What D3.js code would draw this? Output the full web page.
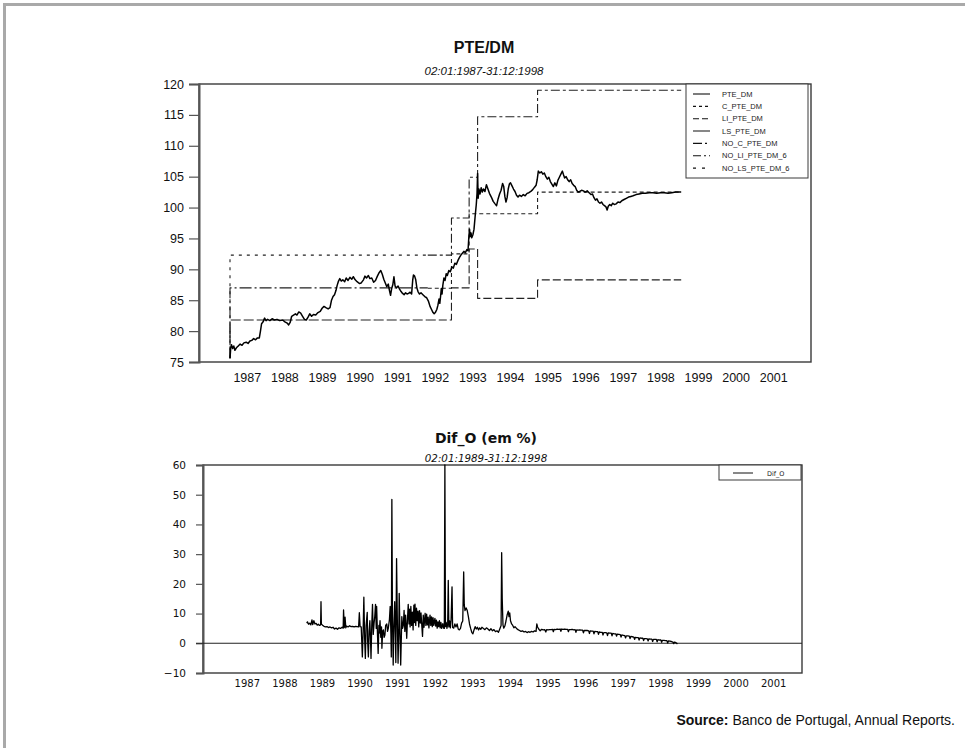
<!DOCTYPE html>
<html>
<head>
<meta charset="utf-8">
<script src="https://cdn.jsdelivr.net/npm/d3@7"></script>
<style>
  body { margin: 0; background: #fff; }
  svg { display: block; }
</style>
</head>
<body>
<svg id="chart" width="965" height="748"></svg>
<script>
// ---- data -------------------------------------------------------------
const yearLabels = ["1987","1988","1989","1990","1991","1992","1993","1994","1995","1996","1997","1998","1999","2000","2001"];
const topTicks = [75, 80, 85, 90, 95, 100, 105, 110, 115, 120];
const bottomTicks = [-10, 0, 10, 20, 30, 40, 50, 60];

// PTE per DM, [decimal year, rate]
const pteDm = [
[1987.00,75.6],[1987.02,77.3],[1987.04,77.8],[1987.07,77.2],[1987.10,77.6],[1987.13,76.9],[1987.17,77.3],[1987.22,77.6],
[1987.27,77.9],[1987.32,77.7],[1987.37,78.1],[1987.43,78.2],[1987.48,78.0],[1987.53,78.4],[1987.58,78.5],[1987.63,78.8],
[1987.68,78.6],[1987.73,78.9],[1987.78,78.9],[1987.81,80.0],[1987.84,81.2],[1987.88,81.5],[1987.92,82.1],[1987.96,81.7],
[1988.00,81.9],[1988.06,81.7],[1988.12,82.0],[1988.18,81.8],[1988.25,81.9],[1988.32,81.7],[1988.40,81.8],[1988.46,81.5],
[1988.52,81.3],[1988.56,81.0],[1988.60,81.4],[1988.64,82.4],[1988.69,82.6],[1988.74,82.8],[1988.78,82.6],[1988.83,83.1],
[1988.88,82.9],[1988.93,82.4],[1988.98,81.9],[1989.03,81.8],[1989.08,82.3],[1989.12,82.8],[1989.17,82.4],[1989.22,82.7],
[1989.28,82.6],[1989.34,83.0],[1989.40,83.2],[1989.45,83.7],[1989.50,84.0],[1989.55,83.8],[1989.61,83.6],[1989.66,83.8],
[1989.70,85.0],[1989.74,85.6],[1989.78,85.9],[1989.82,86.6],[1989.85,87.4],[1989.88,88.0],[1989.92,88.5],[1989.96,88.1],
[1990.00,88.3],[1990.05,88.0],[1990.09,88.6],[1990.14,88.2],[1990.19,88.7],[1990.24,88.4],[1990.28,88.8],[1990.33,88.3],
[1990.38,88.0],[1990.44,87.7],[1990.49,87.8],[1990.55,88.3],[1990.59,88.9],[1990.63,88.6],[1990.68,89.0],[1990.72,88.5],
[1990.77,88.6],[1990.82,87.9],[1990.87,88.2],[1990.92,88.9],[1990.97,89.5],[1991.01,89.8],[1991.05,89.2],[1991.09,88.4],
[1991.13,87.8],[1991.17,87.2],[1991.21,87.6],[1991.24,86.6],[1991.27,85.8],[1991.30,86.9],[1991.33,87.5],[1991.36,88.8],
[1991.39,87.3],[1991.43,87.0],[1991.47,87.3],[1991.51,86.8],[1991.55,86.4],[1991.59,86.1],[1991.63,85.9],[1991.67,86.2],
[1991.71,86.0],[1991.75,86.1],[1991.79,86.3],[1991.83,86.0],[1991.86,88.3],[1991.88,89.1],[1991.91,88.9],[1991.94,88.3],
[1991.97,87.0],[1992.00,86.4],[1992.04,86.0],[1992.08,86.2],[1992.13,85.9],[1992.18,85.6],[1992.23,85.4],[1992.28,84.8],
[1992.32,84.0],[1992.36,83.5],[1992.40,83.0],[1992.43,82.8],[1992.46,83.0],[1992.50,83.5],[1992.53,84.2],[1992.56,85.2],
[1992.58,84.5],[1992.60,85.6],[1992.62,86.9],[1992.64,86.0],[1992.66,87.4],[1992.69,88.6],[1992.72,88.2],[1992.75,89.3],
[1992.78,89.0],[1992.82,89.8],[1992.86,89.6],[1992.90,90.4],[1992.94,90.2],[1992.98,91.0],[1993.02,90.8],[1993.06,91.4],
[1993.10,91.9],[1993.14,92.3],[1993.18,92.6],[1993.22,92.9],[1993.26,92.7],[1993.30,93.2],[1993.33,93.0],[1993.35,95.0],
[1993.37,96.5],[1993.39,95.3],[1993.41,95.9],[1993.43,95.1],[1993.46,95.6],[1993.49,96.5],[1993.52,98.6],[1993.55,100.5],
[1993.57,102.3],[1993.585,105.5],[1993.60,101.5],[1993.62,103.0],[1993.65,102.2],[1993.68,103.2],[1993.71,102.5],[1993.74,103.0],
[1993.78,102.6],[1993.82,103.7],[1993.86,103.0],[1993.90,102.3],[1993.95,101.7],[1994.00,101.0],[1994.05,100.6],[1994.09,100.3],
[1994.13,101.4],[1994.17,102.2],[1994.21,102.8],[1994.25,103.9],[1994.28,103.4],[1994.31,101.8],[1994.34,100.9],[1994.37,101.6],
[1994.40,103.0],[1994.43,103.8],[1994.46,104.0],[1994.50,103.5],[1994.54,103.0],[1994.58,102.6],[1994.62,102.0],[1994.66,101.7],
[1994.70,102.0],[1994.75,101.8],[1994.80,102.1],[1994.85,101.9],[1994.90,102.3],[1994.95,102.4],[1995.00,102.6],[1995.05,102.9],
[1995.10,103.3],[1995.14,103.6],[1995.17,104.5],[1995.20,105.9],[1995.24,105.6],[1995.28,105.8],[1995.32,105.4],[1995.36,105.6],
[1995.40,105.0],[1995.44,104.6],[1995.48,104.9],[1995.52,104.2],[1995.56,103.8],[1995.60,103.4],[1995.64,104.0],[1995.68,103.5],
[1995.72,104.4],[1995.76,104.9],[1995.80,105.4],[1995.84,105.9],[1995.87,105.3],[1995.90,104.8],[1995.94,105.0],[1995.98,104.5],
[1996.02,104.2],[1996.06,104.5],[1996.10,103.9],[1996.14,103.6],[1996.18,103.4],[1996.22,102.8],[1996.26,102.5],[1996.30,102.6],
[1996.35,102.8],[1996.40,102.7],[1996.45,102.5],[1996.50,102.7],[1996.55,102.4],[1996.60,102.1],[1996.64,102.2],[1996.68,101.6],
[1996.72,101.2],[1996.76,101.4],[1996.80,100.9],[1996.84,100.7],[1996.88,100.9],[1996.92,100.5],[1996.96,100.3],[1997.00,100.1],
[1997.03,99.6],[1997.06,100.2],[1997.10,100.5],[1997.14,100.3],[1997.18,100.7],[1997.22,100.5],[1997.27,100.6],[1997.32,100.9],
[1997.37,100.8],[1997.42,101.1],[1997.48,101.3],[1997.54,101.5],[1997.60,101.7],[1997.66,101.8],[1997.72,101.9],[1997.80,102.1],
[1997.88,102.2],[1997.96,102.3],[1998.05,102.3],[1998.15,102.4],[1998.25,102.4],[1998.35,102.3],[1998.45,102.4],[1998.55,102.4],
[1998.65,102.3],[1998.75,102.4],[1998.85,102.5],[1998.95,102.5],[1999.00,102.5]
];

// ERM central rate and limits (official), step breakpoints
const cPteDm = [[1992.26,86.94],[1992.89,86.94],[1992.89,92.5],[1993.36,92.5],[1993.36,99.0],[1995.18,99.0],[1995.18,102.5],[1999.0,102.5]];
const liPteDm = [[1992.26,81.8],[1992.89,81.8],[1992.89,87.0],[1993.36,87.0],[1993.36,93.3],[1993.585,93.3],[1993.585,85.3],[1995.18,85.3],[1995.18,88.3],[1999.0,88.3]];
const lsPteDm = [[1992.26,92.3],[1992.89,92.3],[1992.89,98.3],[1993.36,98.3],[1993.36,104.9],[1993.585,104.9],[1993.585,114.7],[1995.18,114.7],[1995.18,119.0],[1999.0,119.0]];
// notional band before entry (+/-6%)
const noCPteDm = [[1987.0,75.6],[1987.0,87.0],[1992.26,87.0]];
const noLiPteDm6 = [[1987.0,75.6],[1987.0,81.8],[1992.26,81.8]];
const noLsPteDm6 = [[1987.0,75.6],[1987.0,92.3],[1992.26,92.3]];

// Dif_O, percent, [decimal year, value]
const difO = [
[1989.04,6.8],[1989.06,7.2],[1989.09,6.4],[1989.12,6.8],[1989.15,6.2],[1989.18,7.9],[1989.20,6.3],[1989.23,7.6],
[1989.26,6.5],[1989.29,6.7],[1989.32,6.1],[1989.35,6.4],[1989.38,6.0],[1989.41,6.2],[1989.42,14.0],[1989.43,6.5],
[1989.46,6.1],[1989.50,5.7],[1989.54,5.5],[1989.58,5.6],[1989.62,5.3],[1989.66,5.5],[1989.70,5.2],[1989.74,5.4],
[1989.78,4.8],[1989.82,5.1],[1989.86,4.7],[1989.90,5.2],[1989.94,5.0],[1989.98,5.4],[1990.01,5.1],[1990.02,11.2],
[1990.04,5.3],[1990.06,8.8],[1990.08,5.2],[1990.10,5.8],[1990.14,5.5],[1990.18,5.9],[1990.22,5.6],[1990.26,5.7],
[1990.30,5.5],[1990.34,5.7],[1990.38,5.6],[1990.42,5.5],[1990.44,10.3],[1990.46,5.6],[1990.49,5.5],
[1990.52,-4.6],[1990.54,4.0],[1990.56,15.5],[1990.58,2.0],[1990.60,-5.1],[1990.62,6.0],[1990.65,10.4],[1990.66,1.0],
[1990.68,-4.6],[1990.70,4.0],[1990.72,7.6],[1990.74,0.0],[1990.75,-5.1],[1990.77,6.0],[1990.79,13.1],[1990.81,3.0],
[1990.83,6.5],[1990.85,9.0],[1990.87,13.1],[1990.89,5.0],[1990.90,12.4],[1990.92,4.0],[1990.94,-3.4],[1990.96,6.0],
[1990.97,3.4],[1990.99,7.6],[1991.01,2.0],[1991.03,5.5],[1991.04,-1.7],[1991.06,4.0],[1991.08,4.5],[1991.10,2.0],
[1991.12,2.8],[1991.14,6.0],[1991.17,6.5],[1991.19,4.0],[1991.21,5.0],[1991.24,8.0],[1991.26,12.4],[1991.28,3.0],
[1991.29,-4.6],[1991.305,48.4],[1991.32,10.0],[1991.34,-7.3],[1991.36,6.0],[1991.38,14.0],[1991.40,2.0],[1991.41,-6.5],
[1991.43,28.5],[1991.45,8.0],[1991.47,-6.7],[1991.49,5.0],[1991.50,16.8],[1991.52,4.0],[1991.54,-7.3],[1991.57,9.0],
[1991.59,5.0],[1991.61,6.0],[1991.63,11.1],[1991.65,4.0],[1991.67,9.5],[1991.70,1.7],[1991.72,8.0],[1991.74,13.1],
[1991.76,6.5],[1991.78,11.5],[1991.79,5.5],[1991.81,12.4],[1991.83,6.0],[1991.85,10.5],[1991.87,4.5],[1991.89,12.8],
[1991.91,7.0],[1991.92,13.2],[1991.94,6.0],[1991.96,11.8],[1991.98,7.6],[1992.00,10.8],[1992.02,5.5],[1992.04,11.0],
[1992.06,6.8],[1992.08,10.2],[1992.10,6.2],[1992.12,2.3],[1992.14,9.5],[1992.16,5.4],[1992.19,10.1],[1992.21,6.0],
[1992.23,9.8],[1992.25,6.2],[1992.27,8.8],[1992.29,5.2],[1992.32,9.5],[1992.34,6.0],[1992.36,8.9],[1992.38,5.6],
[1992.40,8.6],[1992.42,6.0],[1992.45,8.4],[1992.47,5.8],[1992.49,7.8],[1992.51,5.1],[1992.53,7.2],[1992.55,5.6],
[1992.57,7.6],[1992.59,5.2],[1992.61,7.0],[1992.63,5.0],[1992.66,6.6],[1992.68,5.1],[1992.70,5.0],[1992.715,60.0],
[1992.73,5.6],[1992.75,7.0],[1992.77,5.0],[1992.79,6.5],[1992.805,21.2],[1992.82,5.5],[1992.84,7.5],[1992.86,5.2],
[1992.88,8.0],[1992.905,19.0],[1992.92,5.3],[1992.95,5.1],[1992.98,6.5],[1993.01,5.5],[1993.04,6.5],[1993.07,4.8],
[1993.10,4.5],[1993.13,5.0],[1993.16,6.8],[1993.19,7.5],[1993.215,24.0],[1993.23,13.0],[1993.25,11.0],[1993.28,11.9],
[1993.31,11.0],[1993.34,9.0],[1993.37,6.5],[1993.40,5.0],[1993.43,3.7],[1993.46,3.2],[1993.49,4.5],[1993.52,5.6],
[1993.55,4.8],[1993.58,5.4],[1993.61,4.5],[1993.64,5.2],[1993.67,4.7],[1993.70,5.4],[1993.74,5.0],[1993.78,4.6],
[1993.82,5.2],[1993.86,4.8],[1993.90,4.3],[1993.94,4.9],[1993.98,4.2],[1994.02,4.6],[1994.06,3.9],[1994.10,4.2],
[1994.14,3.7],[1994.18,5.0],[1994.21,6.0],[1994.225,30.5],[1994.24,15.0],[1994.26,6.2],[1994.28,5.1],[1994.31,5.8],
[1994.34,7.5],[1994.37,9.5],[1994.40,10.8],[1994.42,9.0],[1994.44,10.2],[1994.46,7.6],[1994.49,6.5],[1994.52,6.0],
[1994.55,5.2],[1994.58,5.6],[1994.62,5.0],[1994.66,4.6],[1994.70,4.3],[1994.74,4.0],[1994.78,4.2],[1994.82,3.8],
[1994.86,4.0],[1994.90,3.6],[1994.94,3.9],[1994.98,3.7],[1995.02,4.0],[1995.06,3.8],[1995.10,4.2],[1995.14,4.0],
[1995.16,6.5],[1995.18,5.5],[1995.21,4.8],[1995.25,4.2],[1995.29,4.7],[1995.33,4.5],[1995.37,4.6],[1995.40,3.8],
[1995.42,4.6],[1995.46,4.5],[1995.50,4.6],[1995.54,4.6],[1995.58,4.7],[1995.60,3.9],[1995.62,4.7],[1995.66,4.6],
[1995.70,4.8],[1995.74,4.7],[1995.78,4.8],[1995.80,4.0],[1995.82,4.8],[1995.86,4.7],[1995.90,4.8],[1995.94,4.7],
[1995.98,4.7],[1996.00,3.9],[1996.02,4.6],[1996.06,4.6],[1996.10,4.7],[1996.14,4.5],[1996.18,4.6],[1996.20,3.7],
[1996.22,4.5],[1996.26,4.4],[1996.30,4.5],[1996.34,4.4],[1996.38,4.4],[1996.40,3.5],[1996.42,4.3],[1996.46,4.3],
[1996.50,4.3],[1996.54,4.2],[1996.56,3.3],[1996.58,4.2],[1996.62,4.1],[1996.66,4.1],[1996.68,3.2],[1996.70,4.0],
[1996.74,3.9],[1996.78,3.9],[1996.80,3.0],[1996.82,3.8],[1996.86,3.7],[1996.90,3.7],[1996.92,2.8],[1996.94,3.6],
[1996.98,3.6],[1997.02,3.5],[1997.04,2.6],[1997.06,3.5],[1997.10,3.4],[1997.14,3.4],[1997.16,2.5],[1997.18,3.3],
[1997.22,3.2],[1997.26,3.2],[1997.28,2.4],[1997.30,3.1],[1997.34,3.0],[1997.38,2.9],[1997.40,2.1],[1997.42,2.8],
[1997.46,2.7],[1997.50,2.6],[1997.52,1.8],[1997.54,2.5],[1997.58,2.5],[1997.62,2.4],[1997.64,1.6],[1997.66,2.3],
[1997.70,2.2],[1997.74,2.1],[1997.76,1.3],[1997.78,2.0],[1997.82,1.9],[1997.86,1.9],[1997.88,1.1],[1997.90,1.8],
[1997.94,1.7],[1997.98,1.7],[1998.00,0.9],[1998.02,1.6],[1998.06,1.6],[1998.10,1.5],[1998.12,0.8],[1998.14,1.5],
[1998.18,1.4],[1998.22,1.4],[1998.24,0.6],[1998.26,1.3],[1998.30,1.3],[1998.34,1.3],[1998.36,0.5],[1998.38,1.2],
[1998.42,1.1],[1998.46,1.1],[1998.48,0.3],[1998.50,1.0],[1998.54,1.0],[1998.58,0.9],[1998.62,0.9],[1998.64,0.1],
[1998.66,0.8],[1998.70,0.7],[1998.74,0.6],[1998.78,0.4],[1998.80,-0.1],[1998.82,0.4],[1998.86,0.2],[1998.90,-0.2]
];

// ---- drawing ----------------------------------------------------------
const svg = d3.select("#chart");
const ink = "#111";
const frameColor = "#3a3a3a";

// page frame (top and left rule)
svg.append("rect").attr("x", 3).attr("y", 3).attr("width", 962).attr("height", 3).attr("fill", "#a9a9a9");
svg.append("rect").attr("x", 3).attr("y", 3).attr("width", 3).attr("height", 745).attr("fill", "#a9a9a9");

// shared time axis
const x = d3.scaleLinear().domain([1987, 1999]).range([230, 681.2]);
const labelOffset = 0.46;

// ===== upper panel: PTE/DM =====
const upperBox = { left: 199, right: 811, top: 84, bottom: 362 };
const yTop = d3.scaleLinear().domain([75, 120]).range([upperBox.bottom, upperBox.top]);

svg.append("text").attr("x", 484).attr("y", 53).attr("text-anchor", "middle")
  .attr("font-family", "Liberation Sans, Arial, sans-serif").attr("font-weight", "bold")
  .attr("font-size", 16).attr("fill", ink).text("PTE/DM");
svg.append("text").attr("x", 484).attr("y", 75).attr("text-anchor", "middle")
  .attr("font-family", "Liberation Sans, Arial, sans-serif").attr("font-style", "italic")
  .attr("font-size", 11.5).attr("fill", ink).text("02:01:1987-31:12:1998");

const gTop = svg.append("g");
gTop.append("rect").attr("x", upperBox.left).attr("y", upperBox.top)
  .attr("width", upperBox.right - upperBox.left).attr("height", upperBox.bottom - upperBox.top)
  .attr("fill", "none").attr("stroke", frameColor).attr("stroke-width", 1.4);

const yAxisTop = d3.axisLeft(yTop).tickValues(topTicks).tickSize(10).tickPadding(5);
const gyTop = gTop.append("g").attr("transform", `translate(${upperBox.left},0)`).call(yAxisTop);
gyTop.select(".domain").attr("stroke", "#555").attr("stroke-width", 2);
gyTop.selectAll(".tick line").attr("stroke", "#555").attr("stroke-width", 1.2);
gyTop.selectAll(".tick text").attr("font-family", "Liberation Sans, Arial, sans-serif")
  .attr("font-size", 12.5).attr("fill", ink);

gTop.selectAll(".xlab").data(yearLabels).join("text")
  .attr("x", d => x(+d + labelOffset)).attr("y", 381.5).attr("text-anchor", "middle")
  .attr("font-family", "Liberation Sans, Arial, sans-serif").attr("font-size", 12.5)
  .attr("fill", ink).text(d => d);

const lineTop = d3.line().x(d => x(d[0])).y(d => yTop(d[1]));

const topSeries = [
  { name: "PTE_DM", data: pteDm, dash: null, width: 1.5 },
  { name: "C_PTE_DM", data: cPteDm, dash: "4,3", width: 1.1 },
  { name: "LI_PTE_DM", data: liPteDm, dash: "8,3", width: 1.1 },
  { name: "LS_PTE_DM", data: lsPteDm, dash: "9,3,3,3", width: 1.1 },
  { name: "NO_C_PTE_DM", data: noCPteDm, dash: "12,3,2,3", width: 1.1 },
  { name: "NO_LI_PTE_DM_6", data: noLiPteDm6, dash: "10,3", width: 1.1 },
  { name: "NO_LS_PTE_DM_6", data: noLsPteDm6, dash: "3,5", width: 1.1 }
];

topSeries.slice().reverse().forEach(s => {
  gTop.append("path").datum(s.data)
    .attr("d", lineTop).attr("fill", "none").attr("stroke", s.name === "PTE_DM" ? "#000" : "#222")
    .attr("stroke-width", s.width).attr("stroke-dasharray", s.dash)
    .attr("stroke-linejoin", "round");
});

// legend
const lgTop = gTop.append("g");
lgTop.append("rect").attr("x", 686).attr("y", 84).attr("width", 122).attr("height", 94)
  .attr("fill", "#fff").attr("stroke", frameColor).attr("stroke-width", 1);
const legendDash = ["", "3,3", "6,3", "14,0", "9,3,2,3", "8,3,2,3", "3,6"];
topSeries.forEach((s, i) => {
  const yy = 94 + i * 12.35;
  lgTop.append("line").attr("x1", 693).attr("x2", 710).attr("y1", yy).attr("y2", yy)
    .attr("stroke", "#111").attr("stroke-width", 1.1).attr("stroke-dasharray", legendDash[i] || null);
  lgTop.append("text").attr("x", 722).attr("y", yy + 2.6)
    .attr("font-family", "Liberation Sans, Arial, sans-serif").attr("font-size", 7.5)
    .attr("fill", "#222").text(s.name);
});

// ===== lower panel: Dif_O =====
const lowerBox = { left: 203, right: 802, top: 465, bottom: 673 };
const yBot = d3.scaleLinear().domain([-10, 60]).range([lowerBox.bottom, lowerBox.top]);

svg.append("text").attr("x", 486).attr("y", 443).attr("text-anchor", "middle")
  .attr("font-family", "DejaVu Sans, Verdana, sans-serif").attr("font-weight", "bold")
  .attr("font-size", 14).attr("fill", ink).text("Dif_O (em %)");
svg.append("text").attr("x", 486).attr("y", 461.5).attr("text-anchor", "middle")
  .attr("font-family", "DejaVu Sans, Verdana, sans-serif").attr("font-style", "italic")
  .attr("font-size", 10.3).attr("fill", ink).text("02:01:1989-31:12:1998");

const gBot = svg.append("g");
gBot.append("rect").attr("x", lowerBox.left).attr("y", lowerBox.top)
  .attr("width", lowerBox.right - lowerBox.left).attr("height", lowerBox.bottom - lowerBox.top)
  .attr("fill", "none").attr("stroke", frameColor).attr("stroke-width", 1.4);

const yAxisBot = d3.axisLeft(yBot).tickValues(bottomTicks).tickSize(7).tickPadding(10);
const gyBot = gBot.append("g").attr("transform", `translate(${lowerBox.left},0)`).call(yAxisBot);
gyBot.select(".domain").attr("stroke", "#555").attr("stroke-width", 2);
gyBot.selectAll(".tick line").attr("stroke", "#555").attr("stroke-width", 1.2);
gyBot.selectAll(".tick text").attr("font-family", "DejaVu Sans, Verdana, sans-serif")
  .attr("font-size", 10.5).attr("fill", ink);

// zero reference line
gBot.append("line").attr("x1", lowerBox.left - 7).attr("x2", lowerBox.right)
  .attr("y1", yBot(0)).attr("y2", yBot(0)).attr("stroke", "#222").attr("stroke-width", 1.1);

gBot.selectAll(".xlab").data(yearLabels).join("text")
  .attr("x", d => x(+d + labelOffset)).attr("y", 687).attr("text-anchor", "middle")
  .attr("font-family", "DejaVu Sans, Verdana, sans-serif").attr("font-size", 10)
  .attr("fill", ink).text(d => d);

const lineBot = d3.line().x(d => x(d[0])).y(d => yBot(d[1]));
gBot.append("path").datum(difO).attr("d", lineBot).attr("fill", "none")
  .attr("stroke", "#000").attr("stroke-width", 1.3).attr("stroke-linejoin", "round");

const lgBot = gBot.append("g");
lgBot.append("rect").attr("x", 719).attr("y", 465).attr("width", 82).attr("height", 15)
  .attr("fill", "#fff").attr("stroke", frameColor).attr("stroke-width", 1);
lgBot.append("line").attr("x1", 733).attr("x2", 753).attr("y1", 473).attr("y2", 473)
  .attr("stroke", "#111").attr("stroke-width", 1);
lgBot.append("text").attr("x", 767).attr("y", 475.5)
  .attr("font-family", "DejaVu Sans, Verdana, sans-serif").attr("font-size", 6.5)
  .attr("fill", "#222").text("Dif_O");

// ===== source note =====
const src = svg.append("text").attr("x", 955).attr("y", 725).attr("text-anchor", "end")
  .attr("font-family", "Liberation Sans, Arial, sans-serif").attr("font-size", 14).attr("fill", ink);
src.append("tspan").attr("font-weight", "bold").text("Source:");
src.append("tspan").text(" Banco de Portugal, Annual Reports.");
</script>
</body>
</html>
